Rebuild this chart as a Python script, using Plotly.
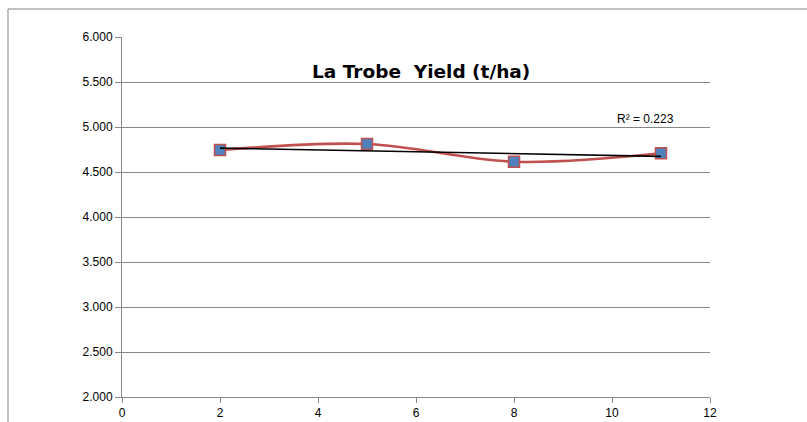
import numpy as np
import plotly.graph_objects as go

# Data
x_vals = [2, 5, 8, 11]
yield_vals = [4.744, 4.811, 4.614, 4.708]
title_text = "La Trobe  Yield (t/ha)"
r2_text = "R² = 0.223"
y_ticks = [2.0, 2.5, 3.0, 3.5, 4.0, 4.5, 5.0, 5.5, 6.0]
x_ticks = [0, 2, 4, 6, 8, 10, 12]

# Linear trendline from data
slope, intercept = np.polyfit(x_vals, yield_vals, 1)
trend_x = [min(x_vals), max(x_vals)]
trend_y = [slope * v + intercept for v in trend_x]

W, H = 807, 422
ml, mr, mt, mb = 122, 97, 37, 25
pw, ph = W - ml - mr, H - mt - mb

fig = go.Figure()
fig.add_trace(go.Scatter(
    x=x_vals, y=yield_vals, mode="lines+markers",
    line=dict(color="#C0504D", width=2.6, shape="spline", smoothing=1.0),
    marker=dict(symbol="square", size=11, color="#4F81BD",
                line=dict(color="#C0504D", width=1.5)),
    showlegend=False, hoverinfo="x+y"))
fig.add_trace(go.Scatter(
    x=trend_x, y=trend_y, mode="lines",
    line=dict(color="#000000", width=1.6),
    showlegend=False, hoverinfo="skip"))

gray = "#878787"
fig.update_xaxes(range=[0, 12], tickvals=x_ticks, showgrid=False,
                 showline=True, linecolor=gray, linewidth=1,
                 ticks="outside", ticklen=5, tickcolor=gray,
                 tickfont=dict(family="Liberation Sans", size=12, color="#000"),
                 zeroline=False, fixedrange=True, automargin=False)
fig.update_yaxes(range=[2, 6], tickvals=y_ticks, tickformat=".3f",
                 showgrid=True, gridcolor=gray, gridwidth=1,
                 showline=True, linecolor=gray, linewidth=1,
                 ticks="outside", ticklen=6, tickcolor=gray,
                 tickfont=dict(family="Liberation Sans", size=12, color="#000"),
                 zeroline=False, fixedrange=True, automargin=False)

# outer chart frame (top and left edges visible)
fx = (8 - ml) / pw
fy = (H - mb - 9) / ph
fig.add_shape(type="line", xref="paper", yref="paper",
              x0=fx, x1=1.3, y0=fy, y1=fy,
              line=dict(color=gray, width=1))
fig.add_shape(type="line", xref="paper", yref="paper",
              x0=fx, x1=fx, y0=fy, y1=-0.2,
              line=dict(color=gray, width=1))

fig.add_annotation(x=6.11, y=5.5, xref="x", yref="y", text=title_text,
                   showarrow=False, yanchor="bottom", yshift=-2,
                   font=dict(family="DejaVu Sans", size=18.5, color="#000", weight="bold"))
fig.add_annotation(x=10.06, y=5.0, xref="x", yref="y", text=r2_text,
                   showarrow=False, xanchor="left", yanchor="bottom", yshift=-1,
                   font=dict(family="Liberation Sans", size=12, color="#000"))

fig.update_layout(width=W, height=H, margin=dict(l=ml, r=mr, t=mt, b=mb),
                  plot_bgcolor="white", paper_bgcolor="white")
fig.write_html("out.html", config={"displayModeBar": False},
               post_script="document.body.style.margin='0';document.body.style.overflow='hidden';")
